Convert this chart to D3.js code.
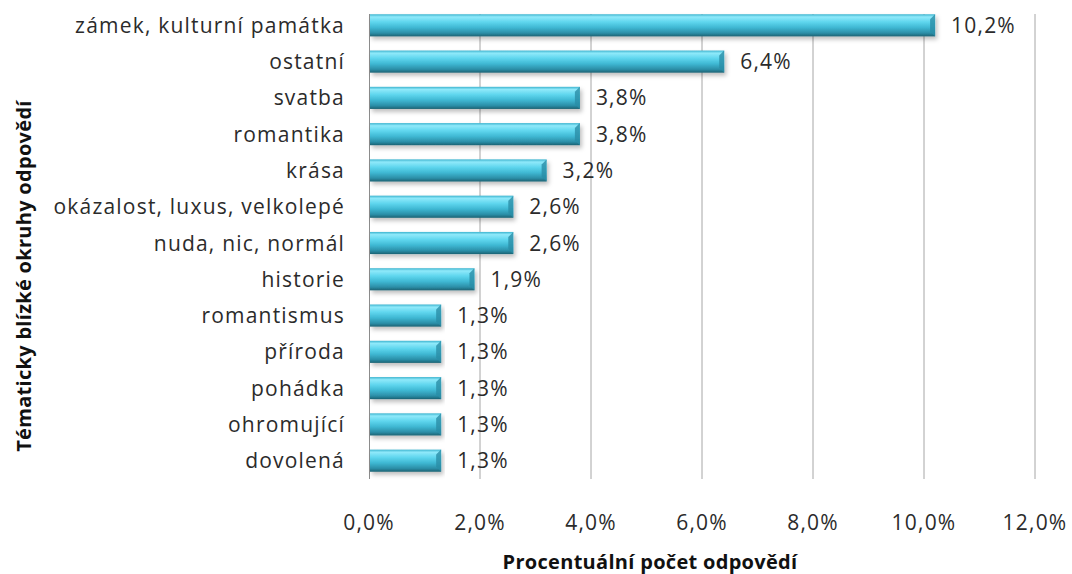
<!DOCTYPE html>
<html>
<head>
<meta charset="utf-8">
<script src="https://cdn.jsdelivr.net/npm/d3@7"></script>
<style>
  body { margin: 0; background: #fff; }
  text { font-family: "Open Sans", Lato, sans-serif; }
</style>
</head>
<body>
<div id="chart"></div>
<script>
// Data
const categories = ['zámek, kulturní památka', 'ostatní', 'svatba', 'romantika', 'krása',
  'okázalost, luxus, velkolepé', 'nuda, nic, normál', 'historie', 'romantismus',
  'příroda', 'pohádka', 'ohromující', 'dovolená'];
const values = [10.2, 6.4, 3.8, 3.8, 3.2, 2.6, 2.6, 1.9, 1.3, 1.3, 1.3, 1.3, 1.3];
const xTicks = [0, 2, 4, 6, 8, 10, 12];
const xTitle = 'Procentuální počet odpovědí';
const yTitle = 'Tématicky blízké okruhy odpovědí';

const data = categories.map((c, i) => ({ cat: c, val: values[i] }));

const margin = { top: 7, right: 37, bottom: 95, left: 369 };
const W = 1072, H = 574;
const width = W - margin.left - margin.right;
const height = H - margin.top - margin.bottom;
const fs = 21;
const ls = 1.2;

const svg = d3.select('#chart').append('svg')
    .attr('width', W)
    .attr('height', H);

const defs = svg.append('defs');
const grad = defs.append('linearGradient')
    .attr('id', 'barGrad')
    .attr('x1', 0).attr('y1', 0).attr('x2', 0).attr('y2', 1);
[['0%', '#3db4cf'], ['12%', '#8fe9fa'], ['35%', '#5fd6ee'], ['60%', '#3fb8d3'],
 ['85%', '#2b8ea7'], ['100%', '#1c6273']].forEach(([o, c]) => {
    grad.append('stop').attr('offset', o).attr('stop-color', c);
});
const shadow = defs.append('filter').attr('id', 'shadow')
    .attr('x', '-5%').attr('y', '-20%').attr('width', '110%').attr('height', '160%');
shadow.append('feDropShadow')
    .attr('dx', 2).attr('dy', 3).attr('stdDeviation', 2)
    .attr('flood-color', '#000').attr('flood-opacity', 0.25);

const g = svg.append('g')
    .attr('transform', `translate(${margin.left},${margin.top})`);

const x = d3.scaleLinear().domain([0, 12]).range([0, width]);
const y = d3.scaleBand().domain(categories).range([0, height]).paddingInner(0.39).paddingOuter(0.2);

// Gridlines
g.selectAll('.grid')
    .data(xTicks.slice(1))
    .enter()
    .append('line')
    .attr('x1', d => x(d)).attr('x2', d => x(d))
    .attr('y1', 7).attr('y2', height)
    .attr('stroke', '#a6a6a6')
    .attr('stroke-width', 1);

// Left axis line
g.append('line')
    .attr('x1', 0.5).attr('x2', 0.5)
    .attr('y1', 7).attr('y2', height)
    .attr('stroke', '#8c8c8c');

// Bars
const bars = g.selectAll('.bar')
    .data(data)
    .enter()
    .append('g')
    .attr('class', 'bar')
    .attr('filter', 'url(#shadow)');

bars.append('rect')
    .attr('x', 1)
    .attr('y', d => y(d.cat))
    .attr('width', d => x(d.val) - 1)
    .attr('height', y.bandwidth())
    .attr('fill', 'url(#barGrad)');

// Bevel at right end
bars.append('path')
    .attr('d', d => {
        const x1 = x(d.val), y0 = y(d.cat), h = y.bandwidth(), b = 5;
        return `M${x1},${y0} L${x1},${y0 + h} L${x1 - b},${y0 + h - b} L${x1 - b},${y0 + b} Z`;
    })
    .attr('fill', '#2a8da6')
    .attr('opacity', 0.8);

// Value labels
g.selectAll('.val')
    .data(data)
    .enter()
    .append('text')
    .attr('x', d => x(d.val) + 16)
    .attr('y', d => y(d.cat) + y.bandwidth() / 2)
    .attr('dy', '0.36em')
    .attr('font-size', fs)
    .attr('letter-spacing', ls)
    .attr('fill', '#2b2b2b')
    .text(d => d.val.toFixed(1).replace('.', ',') + '%');

// Category labels
g.selectAll('.cat')
    .data(data)
    .enter()
    .append('text')
    .attr('x', -24)
    .attr('y', d => y(d.cat) + y.bandwidth() / 2)
    .attr('dy', '0.36em')
    .attr('text-anchor', 'end')
    .attr('font-size', fs)
    .attr('letter-spacing', ls)
    .attr('fill', '#2b2b2b')
    .text(d => d.cat);

// X tick labels
g.selectAll('.xt')
    .data(xTicks)
    .enter()
    .append('text')
    .attr('x', d => x(d))
    .attr('y', height + 43)
    .attr('dy', '0.36em')
    .attr('text-anchor', 'middle')
    .attr('font-size', fs)
    .attr('letter-spacing', ls)
    .attr('fill', '#2b2b2b')
    .text(d => d.toFixed(1).replace('.', ',') + '%');

// Axis titles
svg.append('text')
    .attr('x', 650)
    .attr('y', 562)
    .attr('dy', '0.36em')
    .attr('text-anchor', 'middle')
    .attr('font-size', 20)
    .attr('letter-spacing', 0.3)
    .attr('font-weight', 'bold')
    .attr('fill', '#111')
    .text(xTitle);

svg.append('text')
    .attr('transform', 'translate(24,276) rotate(-90)')
    .attr('dy', '0.36em')
    .attr('text-anchor', 'middle')
    .attr('font-size', 20)
    .attr('letter-spacing', 0.3)
    .attr('font-weight', 'bold')
    .attr('fill', '#111')
    .text(yTitle);
</script>
</body>
</html>
